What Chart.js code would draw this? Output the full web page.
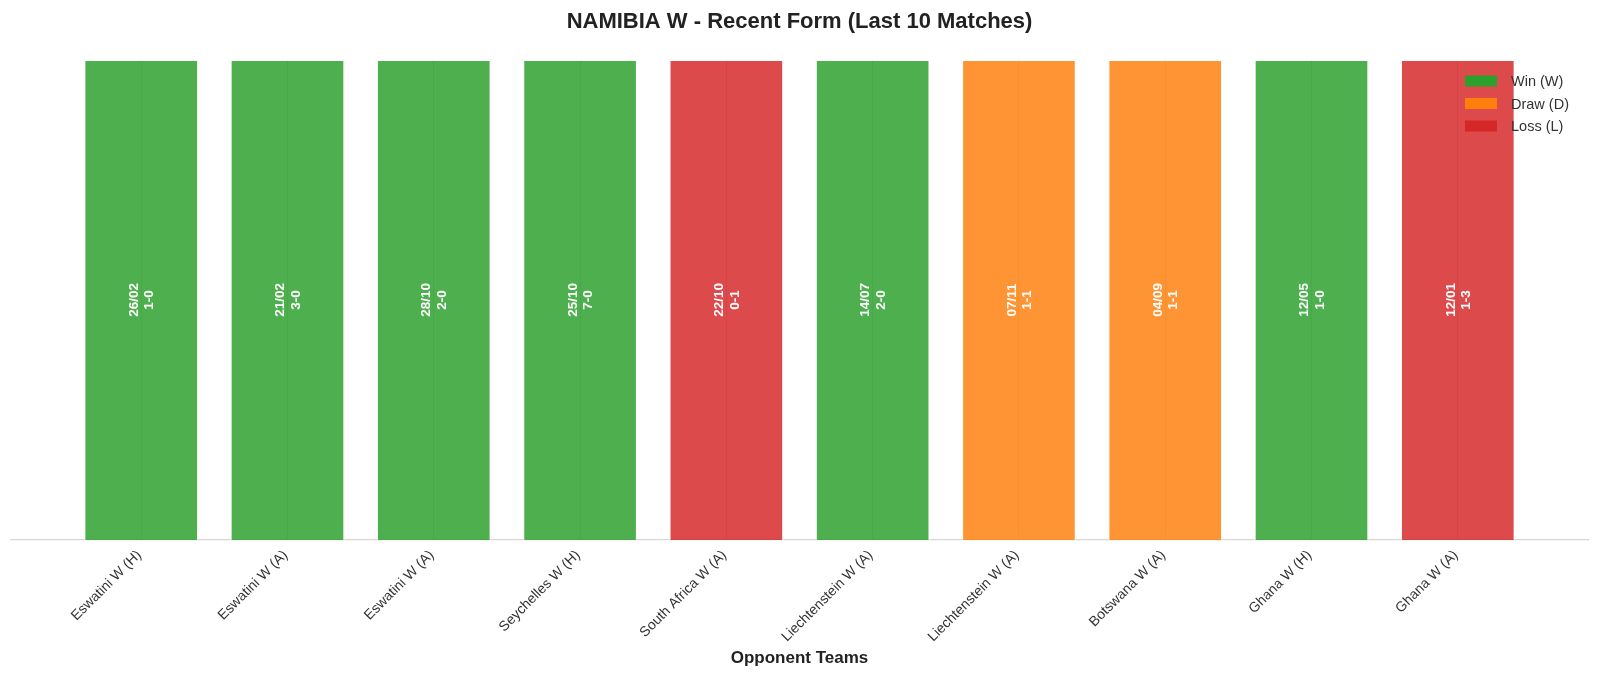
<!DOCTYPE html>
<html>
<head>
<meta charset="utf-8">
<script src="https://cdn.jsdelivr.net/npm/chart.js@4.4.1/dist/chart.umd.min.js"></script>
<style>
  html, body { margin: 0; padding: 0; background: #fff; }
  #c { display: block; }
</style>
</head>
<body>
<canvas id="c" width="1600" height="679"></canvas>
<script>
// last 10 matches, oldest first as in the picture
var opponents = ['Eswatini W (H)', 'Eswatini W (A)', 'Eswatini W (A)', 'Seychelles W (H)', 'South Africa W (A)',
                 'Liechtenstein W (A)', 'Liechtenstein W (A)', 'Botswana W (A)', 'Ghana W (H)', 'Ghana W (A)'];
var dates = ['26/02', '21/02', '28/10', '25/10', '22/10', '14/07', '07/11', '04/09', '12/05', '12/01'];
var scores = ['1-0', '3-0', '2-0', '7-0', '0-1', '2-0', '1-1', '1-1', '1-0', '1-3'];
var results = ['W', 'W', 'W', 'W', 'L', 'W', 'D', 'D', 'W', 'L'];
var heights = [1, 1, 1, 1, 1, 1, 1, 1, 1, 1];

var colores = { W: '#2ca02c', D: '#ff7f0e', L: '#d62728' };
var coloresBar = { W: 'rgba(44,160,44,0.84)', D: 'rgba(255,127,14,0.84)', L: 'rgba(214,39,40,0.84)' };
var leyenda = [['Win (W)', 'W'], ['Draw (D)', 'D'], ['Loss (L)', 'L']];

var FONT = '"Liberation Sans", Arial, sans-serif';

var puntos = [];
for (var i = 0; i < heights.length; i++) {
    puntos.push({ x: i, y: heights[i] });
}

// date + score written sideways in every bar, and the legend box top right
var etiquetas = {
    id: 'etiquetas',
    afterDatasetsDraw: function (chart) {
        var ctx = chart.ctx;
        var meta = chart.getDatasetMeta(0);
        var yMid = chart.scales.y.getPixelForValue(0.5);
        ctx.save();
        ctx.fillStyle = '#ffffff';
        ctx.font = 'bold 13.5px ' + FONT;
        ctx.textAlign = 'center';
        ctx.textBaseline = 'middle';
        meta.data.forEach(function (bar, k) {
            ctx.save();
            ctx.translate(bar.x + 1, yMid);
            ctx.rotate(-Math.PI / 2);
            ctx.fillText(dates[k], 0, -8);
            ctx.fillText(scores[k], 0, 7.5);
            ctx.restore();
        });
        ctx.restore();

        // legend
        ctx.save();
        ctx.font = '14.5px ' + FONT;
        ctx.textBaseline = 'middle';
        ctx.textAlign = 'left';
        leyenda.forEach(function (item, k) {
            var yy = 81 + k * 22.5;
            ctx.fillStyle = colores[item[1]];
            ctx.fillRect(1465, yy - 5.5, 32, 11);
            ctx.fillStyle = '#333333';
            ctx.fillText(item[0], 1511, yy + 1);
        });
        ctx.restore();
    }
};

var ctx = document.getElementById('c').getContext('2d');
var chart = new Chart(ctx, {
    type: 'bar',
    data: {
        datasets: [{
            data: puntos,
            backgroundColor: results.map(function (r) { return coloresBar[r]; }),
            borderColor: 'rgba(255,255,255,0.55)',
            borderWidth: 1.5,
            barThickness: 114
        }]
    },
    plugins: [etiquetas],
    options: {
        responsive: false,
        animation: false,
        devicePixelRatio: 1,
        layout: { padding: { left: 11, right: 12, top: 0, bottom: 10 } },
        plugins: {
            legend: { display: false },
            tooltip: { enabled: false },
            title: {
                display: true,
                text: 'NAMIBIA W - Recent Form (Last 10 Matches)',
                color: '#222222',
                font: { family: FONT, size: 22, weight: 'bold' },
                padding: { top: 9, bottom: 24.5 }
            }
        },
        scales: {
            x: {
                type: 'linear',
                min: -0.89,
                max: 9.89,
                offset: false,
                afterBuildTicks: function (axis) {
                    axis.ticks = opponents.map(function (o, k) { return { value: k }; });
                },
                afterFit: function (axis) {
                    axis.height = 129;
                },
                ticks: {
                    autoSkip: false,
                    minRotation: 45,
                    maxRotation: 45,
                    padding: 7,
                    labelOffset: -2,
                    color: '#333333',
                    font: { family: FONT, size: 14 },
                    callback: function (v) { return opponents[v]; }
                },
                grid: {
                    display: true,
                    offset: false,
                    drawTicks: false,
                    color: '#d8d8d8',
                    lineWidth: 1
                },
                border: { display: true, color: '#d6d6d6', width: 1.2 },
                title: {
                    display: true,
                    text: 'Opponent Teams',
                    color: '#222222',
                    font: { family: FONT, size: 17, weight: 'bold' },
                    padding: { top: 2, bottom: 0 }
                }
            },
            y: {
                display: false,
                min: 0,
                max: 1
            }
        }
    }
});
</script>
</body>
</html>
